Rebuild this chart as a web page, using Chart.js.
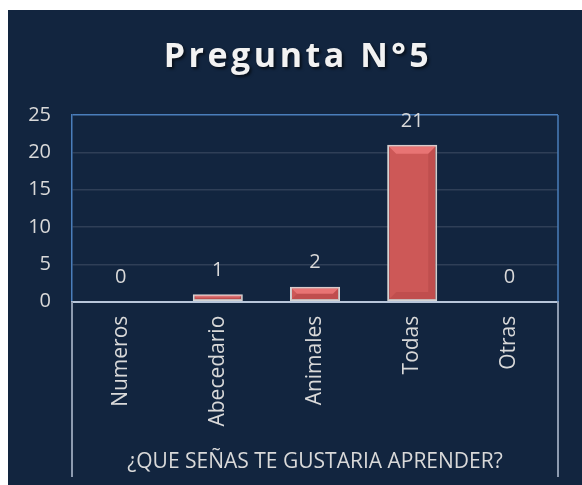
<!DOCTYPE html>
<html>
<head>
<meta charset="utf-8">
<script src="https://cdn.jsdelivr.net/npm/chart.js@4/dist/chart.umd.min.js"></script>
<style>
html,body{margin:0;padding:0;background:#fff;}
#wrap{position:relative;width:582px;height:485px;}
canvas{display:block;}
</style>
</head>
<body>
<div id="wrap"><canvas id="c" width="582" height="485"></canvas></div>
<script>
const categories = ["Numeros", "Abecedario", "Animales", "Todas", "Otras"];
const values = [0, 1, 2, 21, 0];
const yTicks = [0, 5, 10, 15, 20, 25];
const chartTitle = "Pregunta N°5";
const xTitle = "¿QUE SEÑAS TE GUSTARIA APRENDER?";

const FONT = "'Open Sans', Lato, sans-serif";
const TXT = "#d9d9d9";

const bgPlugin = {
  id: 'bg',
  beforeDraw(chart) {
    const ctx = chart.ctx;
    ctx.save();
    ctx.fillStyle = '#ffffff';
    ctx.fillRect(0, 0, chart.width, chart.height);
    ctx.fillStyle = '#12253f';
    ctx.fillRect(8, 10, chart.width - 8, chart.height - 10);
    ctx.restore();
  },
  afterDraw(chart) {
    const ctx = chart.ctx;
    const a = chart.chartArea;
    ctx.save();
    // title
    ctx.font = "bold 34px " + FONT;
    try { ctx.letterSpacing = '3.5px'; } catch (e) {}
    ctx.textAlign = 'center';
    ctx.textBaseline = 'alphabetic';
    ctx.shadowColor = 'rgba(0,0,0,0.6)';
    ctx.shadowOffsetX = 2; ctx.shadowOffsetY = 2; ctx.shadowBlur = 3;
    ctx.fillStyle = '#f2f2f2';
    ctx.fillText(chartTitle, 298, 67);
    ctx.restore();
    ctx.save();
    // right border
    ctx.strokeStyle = '#4a7ebb';
    ctx.lineWidth = 1.5;
    ctx.beginPath();
    ctx.moveTo(a.right, a.top);
    ctx.lineTo(a.right, a.bottom);
    ctx.stroke();
    // extended vertical lines below axis
    ctx.strokeStyle = '#8d9bb0';
    ctx.lineWidth = 2;
    ctx.beginPath();
    ctx.moveTo(a.left, a.bottom);
    ctx.lineTo(a.left, 477);
    ctx.moveTo(a.right, a.bottom);
    ctx.lineTo(a.right, 477);
    ctx.stroke();
    // data labels
    const meta = chart.getDatasetMeta(0);
    ctx.font = "20px " + FONT;
    ctx.fillStyle = TXT;
    ctx.textAlign = 'center';
    ctx.textBaseline = 'middle';
    meta.data.forEach((el, i) => {
      ctx.fillText(String(values[i]), el.x, el.y - 24);
    });
    ctx.restore();
  },
  afterDatasetsDraw(chart) {
    const ctx = chart.ctx;
    const meta = chart.getDatasetMeta(0);
    ctx.save();
    meta.data.forEach((el, i) => {
      if (!values[i]) return;
      const w = el.width;
      const left = el.x - w / 2 + 1, right = el.x + w / 2 - 1;
      const top = el.y + 1, bottom = el.base - 1;
      const h = bottom - top;
      const b = Math.min(8, h / 2);
      ctx.fillStyle = 'rgba(255,140,140,0.55)';
      ctx.beginPath();
      ctx.moveTo(left, top); ctx.lineTo(right, top);
      ctx.lineTo(right - b, top + b); ctx.lineTo(left + b, top + b);
      ctx.closePath(); ctx.fill();
      ctx.fillStyle = 'rgba(120,30,30,0.15)';
      ctx.beginPath();
      ctx.moveTo(right, top); ctx.lineTo(right, bottom);
      ctx.lineTo(right - b, bottom - b); ctx.lineTo(right - b, top + b);
      ctx.closePath(); ctx.fill();
      ctx.beginPath();
      ctx.moveTo(left, bottom); ctx.lineTo(right, bottom);
      ctx.lineTo(right - b, bottom - b); ctx.lineTo(left + b, bottom - b);
      ctx.closePath(); ctx.fill();
    });
    ctx.restore();
  }
};

new Chart(document.getElementById('c'), {
  type: 'bar',
  data: {
    labels: categories,
    datasets: [{
      data: values,
      backgroundColor: '#cd5857',
      borderColor: '#d4d4d4',
      borderWidth: 2,
      borderSkipped: false,
      categoryPercentage: 1,
      barPercentage: 0.515
    }]
  },
  options: {
    responsive: false,
    animation: false,
    devicePixelRatio: 1,
    layout: { padding: { top: 115, right: 24, left: 0, bottom: 0 } },
    plugins: { legend: { display: false }, tooltip: { enabled: false }, title: { display: false } },
    scales: {
      y: {
        min: 0, max: 25,
        afterBuildTicks(scale) { scale.ticks = yTicks.map(v => ({ value: v })); },
        afterFit(scale) { scale.width = 72; },
        ticks: { color: TXT, font: { family: FONT, size: 20 }, padding: 21 },
        grid: {
          drawTicks: false,
          color(ctx) {
            const v = ctx.tick && ctx.tick.value;
            if (v === 25) return '#4a7ebb';
            if (v === 0) return '#b8c6da';
            return '#2f3f57';
          },
          lineWidth: 1.5
        },
        border: { color: '#4a7ebb', width: 1.5 }
      },
      x: {
        afterFit(scale) { scale.height = 183.3; },
        ticks: {
          color: TXT, font: { family: FONT, size: 21 },
          minRotation: 90, maxRotation: 90, padding: 14, autoSkip: false
        },
        grid: { display: false, drawTicks: false },
        border: { color: '#b8c6da', width: 2 },
        title: {
          display: true, text: xTitle, color: TXT,
          font: { family: FONT, size: 21 },
          padding: { top: 0, bottom: 10 }
        }
      }
    }
  },
  plugins: [bgPlugin]
});
</script>
</body>
</html>
